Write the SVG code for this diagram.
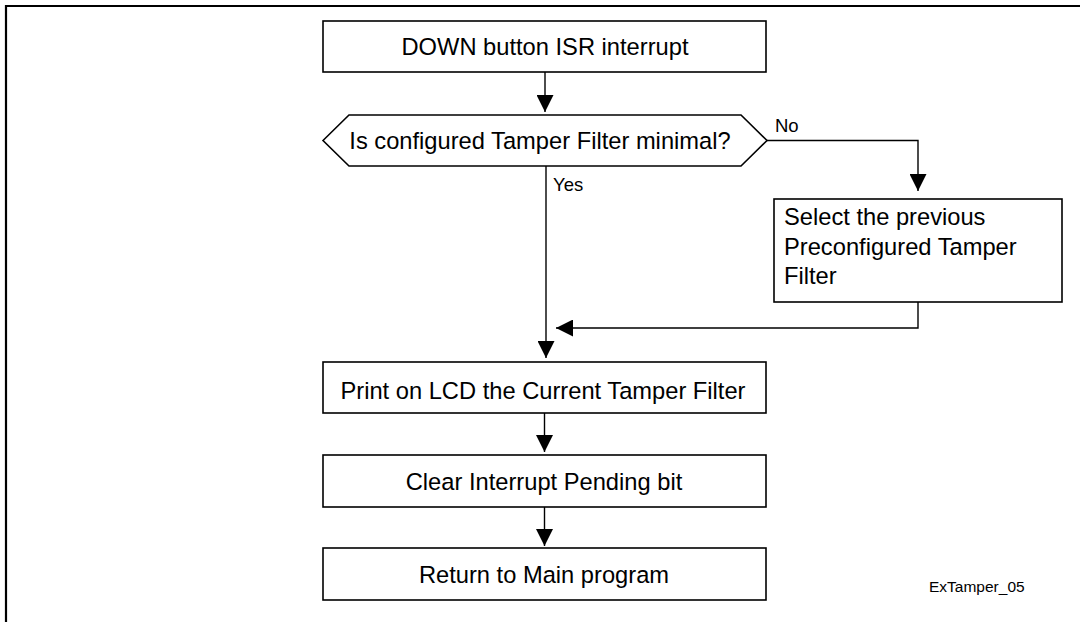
<svg xmlns="http://www.w3.org/2000/svg" width="1080" height="622" viewBox="0 0 1080 622">
<style>
.box{fill:#fff;stroke:#000;stroke-width:1.6}
.t{font-family:"Liberation Sans",Arial,sans-serif;font-size:23.7px;fill:#000}
.lbl{font-family:"Liberation Sans",Arial,sans-serif;font-size:18.5px;fill:#000}
.c{fill:none;stroke:#000;stroke-width:1.4}
</style>
<defs>
<marker id="ah" markerUnits="userSpaceOnUse" markerWidth="17" markerHeight="17" refX="17" refY="8.5" orient="auto" viewBox="0 0 17 17">
<path d="M0,0 L17,8.5 L0,17 z" fill="#000"/>
</marker>
</defs>
<rect width="1080" height="622" fill="#fff"/>
<path d="M6,622 V6 H1080" fill="none" stroke="#000" stroke-width="2.2"/>
<g id="connectors">
<path class="c" d="M545,72 V112" marker-end="url(#ah)"/>
<path class="c" d="M767,140.5 H918 V191" marker-end="url(#ah)"/>
<path class="c" d="M918,302 V328 H556" marker-end="url(#ah)"/>
<path class="c" d="M546,166 V358" marker-end="url(#ah)"/>
<path class="c" d="M544.5,413 V452" marker-end="url(#ah)"/>
<path class="c" d="M544.5,507 V546" marker-end="url(#ah)"/>
<text class="lbl" x="775" y="132">No</text>
<text class="lbl" x="553" y="191">Yes</text>
</g>
<g id="start">
<rect class="box" x="323" y="21" width="443" height="51"/>
<text class="t" x="545" y="55" text-anchor="middle">DOWN button ISR interrupt</text>
</g>
<g id="decision">
<polygon class="box" points="323,140.5 349,115 741,115 767,140.5 741,166 349,166"/>
<text class="t" x="540" y="149" text-anchor="middle">Is configured Tamper Filter minimal?</text>
</g>
<g id="select">
<rect class="box" x="774" y="199" width="288" height="103"/>
<text class="t" x="784" y="225">Select the previous</text>
<text class="t" x="784" y="255">Preconfigured Tamper</text>
<text class="t" x="784" y="284">Filter</text>
</g>
<g id="print">
<rect class="box" x="323" y="362" width="443" height="51"/>
<text class="t" x="543" y="399" text-anchor="middle">Print on LCD the Current Tamper Filter</text>
</g>
<g id="clear">
<rect class="box" x="323" y="455" width="443" height="52"/>
<text class="t" x="544" y="490" text-anchor="middle">Clear Interrupt Pending bit</text>
</g>
<g id="return">
<rect class="box" x="323" y="548" width="443" height="52"/>
<text class="t" x="544" y="583" text-anchor="middle">Return to Main program</text>
</g>
<text class="lbl" x="929" y="592" style="font-size:15.5px">ExTamper_05</text>
</svg>
